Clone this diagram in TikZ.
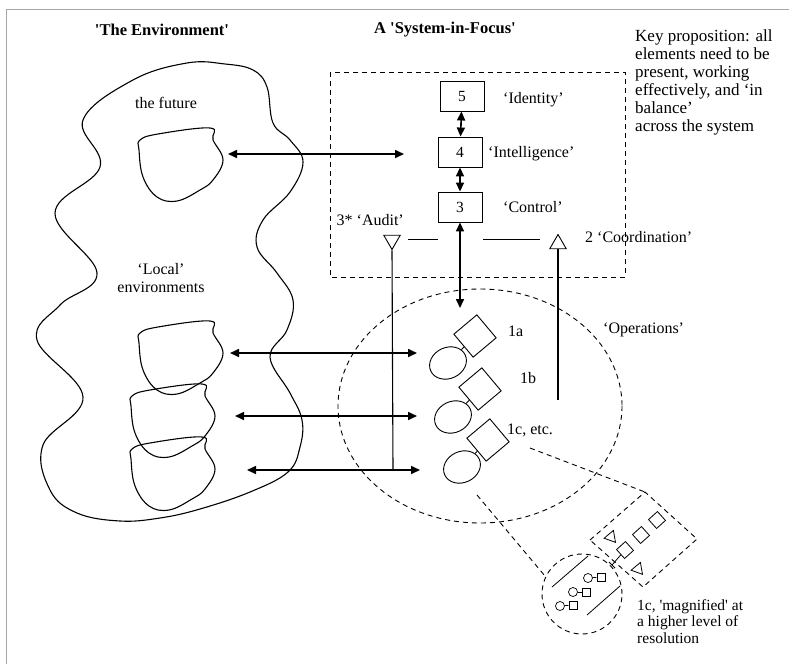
\documentclass[tikz,border=0pt]{standalone}
\usepackage{fontspec}
\setmainfont{Liberation Serif}
\usetikzlibrary{arrows.meta,shapes.geometric,calc}
\newcommand{\sq}{\textquotesingle}
\begin{document}
\begin{tikzpicture}[x=1pt,y=-1pt,
  txt/.style={font=\fontsize{16}{18.4}\selectfont, inner sep=0},
  ttl/.style={font=\fontsize{16.5}{20}\selectfont\bfseries, inner sep=0},
  boxn/.style={draw, line width=0.9, minimum width=44, minimum height=30, inner sep=0, font=\fontsize{15.5}{18}\selectfont},
  dbl/.style={{Triangle[length=9,width=8]}-{Triangle[length=9,width=8]}, line width=1.6},
  sqn/.style={draw, line width=0.9, minimum size=30, inner sep=0, rotate=40},
  ov/.style={draw, line width=0.9, ellipse, minimum width=38, minimum height=31, inner sep=0, rotate=25},
  tri/.style={draw, line width=0.9, regular polygon, regular polygon sides=3, minimum size=19, inner sep=0},
  dsh/.style={dash pattern=on 5pt off 4pt, line width=0.9},
  blob/.style={line width=1.1, smooth cycle, tension=0.65},
  msq/.style={draw, line width=0.8, minimum size=12, inner sep=0, rotate=42},
  mtri/.style={draw, line width=0.8, regular polygon, regular polygon sides=3, minimum size=14, inner sep=0},
  tc/.style={draw, line width=0.7, circle, minimum size=9, inner sep=0},
  ts/.style={draw, line width=0.7, minimum size=8, inner sep=0}
]
\useasboundingbox (0,0) rectangle (789,664);
\fill[white] (0,0) rectangle (789,664);
\draw[black!35, line width=1] (6,664) -- (6,9) -- (789,9);

% titles
\node[ttl] (tenv) at (162,30) {\sq The Environment\sq};
\node[ttl] (tsys) at (445,30) {A \sq System-in-Focus\sq};
\node[txt, anchor=north west, align=left, font=\fontsize{17}{17.9}\selectfont] (key) at (635,30)
 {Key proposition: all\\elements need to be\\present, working\\effectively, and ‘in\\balance’\\across the system};

% environment
\draw[blob] plot coordinates {(187,63) (225,64) (253,70) (267,87) (273,123) (290,140) (303,162) (290,192) (263,220) (257,247) (277,273) (293,300) (287,330) (270,357) (290,393) (302,420) (300,447) (288,472) (250,492) (200,509) (160,518) (120,521) (77,513) (50,490) (43,445) (83,397) (37,340) (60,305) (97,273) (55,213) (100,167) (83,120) (133,80)};
\foreach \ox/\oy in {138/127, 138/320, 130/383, 130/436}{
  \draw[blob, shift={(\ox,\oy)}] plot coordinates {(2,13) (20,7) (72,1) (75,13) (85,33) (75,53) (62,63) (39,74) (19,70) (5,50) (1,23)};
}
\node[txt] (lfut) at (166,103) {the future};
\node[txt, align=center] (lloc) at (161,278) {‘Local’\\environments};

% system in focus
\draw[dsh] (330,72) rectangle (625,277);
\node[boxn] (b5) at (462,96) {5};
\node[boxn] (b4) at (460,152) {4};
\node[boxn] (b3) at (460,207) {3};
\node[txt, anchor=west] (l5) at (503,100) {‘Identity’};
\node[txt, anchor=west] (l4) at (488,154) {‘Intelligence’};
\node[txt, anchor=west] (l3) at (503,207) {‘Control’};
\draw[dbl] (b5) -- (b4);
\draw[dbl] (b4) -- (b3);
\coordinate (optop) at (460,308);
\draw[dbl] (b3) -- (optop);

\node[tri, shape border rotate=180] (tA) at (392,240) {};
\node[tri] (tC) at (558,244) {};
\node[txt, anchor=east] (lA) at (404,220) {3* ‘Audit’};
\node[txt, anchor=west] (lC) at (585,237) {2 ‘Coordination’};
\coordinate (h1) at (408,239); \coordinate (h2) at (438,239);
\coordinate (h3) at (483,239); \coordinate (h4) at (540,239);
\draw[line width=0.9] (h1) -- (h2);
\draw[line width=0.9] (h3) -- (h4);
\coordinate (aud) at (393,470);
\coordinate (coo) at (558,400);
\draw[line width=1.1] (tA.south) -- (aud);
\draw[line width=1.1] (tC.south) -- (coo);

% arrows to environment
\coordinate (fa) at (228,154); \coordinate (fb) at (404,154);
\draw[dbl] (fa) -- (fb);
\coordinate (a1) at (230,353); \coordinate (b1) at (417,353);
\coordinate (a2) at (235,416); \coordinate (b2) at (417,416);
\coordinate (a3) at (247,470); \coordinate (b3e) at (420,470);
\draw[dbl] (a1) -- (b1);
\draw[dbl] (a2) -- (b2);
\draw[dbl] (a3) -- (b3e);

% operations
\draw[dsh] (480,406) ellipse [x radius=142, y radius=117];
\node[txt, anchor=west] (lop) at (603,330) {‘Operations’};
\node[sqn] (d1) at (475,336) {};
\node[ov] (e1) at (448,363) {};
\node[sqn] (d2) at (480,389) {};
\node[ov] (e2) at (453,417) {};
\node[sqn] (d3) at (488,440) {};
\node[ov] (e3) at (462,467) {};
\draw[line width=0.9] (e1) -- (d1);
\draw[line width=0.9] (e2) -- (d2);
\draw[line width=0.9] (e3) -- (d3);
\node[txt, anchor=west] (l1a) at (508,331) {1a};
\node[txt, anchor=west] (l1b) at (520,378) {1b};
\node[txt, anchor=west] (l1c) at (507,430) {1c, etc.};

% magnified inset
\coordinate (zA) at (530,448); \coordinate (rB) at (645,492);
\coordinate (zB) at (477,495); \coordinate (zC) at (545,576);
\draw[dsh] (zA) -- (rB);
\draw[dsh] (zB) -- (zC);
\draw[dsh] (590,540) -- (rB) -- (697,539) -- (643,587) -- cycle;
\node[dsh, draw, circle, minimum size=80, inner sep=0] (mc) at (582,594) {};
\node[msq] (m1) at (625,550) {};
\node[msq] (m2) at (641,535) {};
\node[msq] (m3) at (657,520) {};
\node[mtri, shape border rotate=-20] (mt1) at (611,537) {};
\node[mtri, shape border rotate=-20] (mt2) at (638,569) {};
\coordinate (mT) at (612,565);
\coordinate (mTa) at (609,562); \coordinate (mTb) at (615,568);
\draw[line width=0.8] (m1) -- (mT);
\draw[line width=0.8] (mTa) -- (mTb);
\coordinate (ml1) at (552,587); \coordinate (ml2) at (588,556);
\coordinate (ml3) at (587,615); \coordinate (ml4) at (620,586);
\draw[line width=0.8] (ml1) -- (ml2);
\draw[line width=0.8] (ml3) -- (ml4);
\node[tc] (c1) at (588,578) {}; \node[ts] (s1) at (601,577) {};
\node[tc] (c2) at (573,592) {}; \node[ts] (s2) at (586,592) {};
\node[tc] (c3) at (560,606) {}; \node[ts] (s3) at (573,605) {};
\draw[line width=0.7] (c1) -- (s1);
\draw[line width=0.7] (c2) -- (s2);
\draw[line width=0.7] (c3) -- (s3);
\node[txt, anchor=north west, align=left, font=\fontsize{15.5}{16.8}\selectfont] (lmag) at (637,599)
 {1c, \sq magnified\sq{} at\\a higher level of\\resolution};
\end{tikzpicture}
\end{document}
